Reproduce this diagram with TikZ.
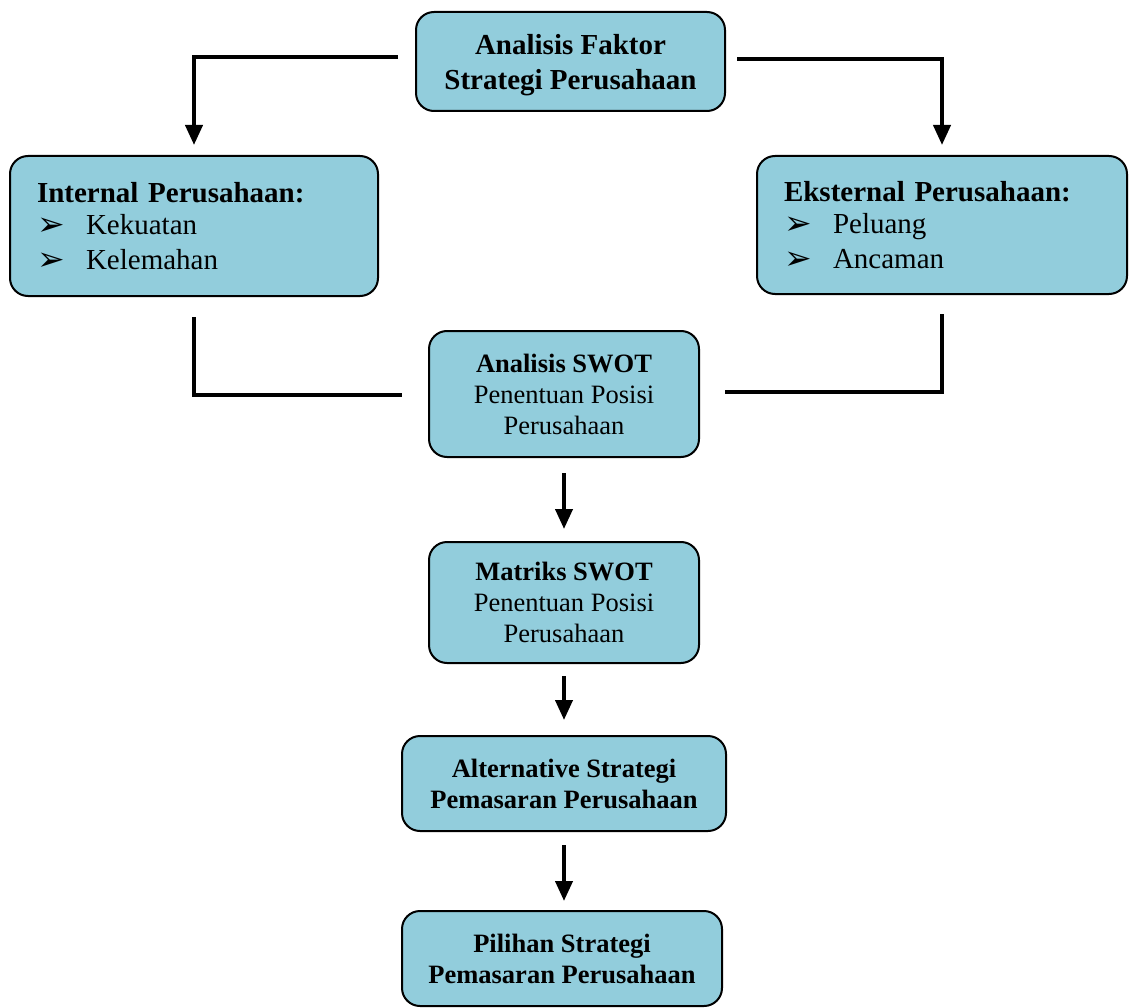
\documentclass[tikz,border=0pt]{standalone}
\usepackage{fontspec}
\setmainfont{Liberation Serif}
\newfontfamily\symfont{DejaVu Sans}
\usepackage{tikz}
\usetikzlibrary{positioning, calc}
\usetikzlibrary{arrows.meta}

\newcommand{\bul}{\raisebox{-1pt}{\symfont\fontsize{33}{33}\selectfont ➢}}
\newcommand{\bitem}[1]{\makebox[49pt][l]{\bul}#1}

\begin{document}
\begin{tikzpicture}[x=1pt, y=-1pt, >={Triangle[length=20pt,width=17pt]}, line width=4pt]
        % Define colors
        \definecolor{boxblue}{HTML}{92CDDC}

        % Styles
        \tikzset{
            box/.style={draw=black, fill=boxblue, line width=2pt, rounded corners=18pt, inner sep=0pt, align=center},
            bigtext/.style={font=\fontsize{29}{35}\selectfont},
            smalltext/.style={font=\fontsize{26.5}{31}\selectfont},
            sidebox/.style={box, bigtext, align=left, text width=#1, inner xsep=27pt}
        }

        \useasboundingbox (0,0) rectangle (1129,1008);

        % Nodes
        \node[box, bigtext, minimum width=309pt, minimum height=99pt] (top) at (570.5,61.5)
            {\rule{0pt}{28pt}\textbf{Analisis Faktor}\\\textbf{Strategi Perusahaan}};
        \node[sidebox=314pt, minimum width=368pt, minimum height=140pt] (intern) at (194,226)
            {\textbf{Internal Perusahaan:}\\[-3pt]\bitem{Kekuatan}\\\bitem{Kelemahan}};
        \node[sidebox=316pt, minimum width=370pt, minimum height=138pt] (ekstern) at (942,225)
            {\textbf{Eksternal Perusahaan:}\\[-3pt]\bitem{Peluang}\\\bitem{Ancaman}};

        \node[box, smalltext, minimum width=270pt, minimum height=126pt] (swot) at (564,394)
            {\textbf{Analisis SWOT}\\Penentuan Posisi\\Perusahaan};
        \node[box, smalltext, minimum width=270pt, minimum height=121pt, below=83pt of swot] (matriks)
            {\textbf{Matriks SWOT}\\Penentuan Posisi\\Perusahaan};
        \node[box, smalltext, minimum width=324pt, minimum height=95pt, below=71pt of matriks] (alt)
            {\textbf{Alternative Strategi}\\\textbf{Pemasaran Perusahaan}};
        \node[box, smalltext, minimum width=320pt, minimum height=95pt, below=78pt of alt, xshift=-2pt] (pilih)
            {\textbf{Pilihan Strategi}\\\textbf{Pemasaran Perusahaan}};

        % Free ends of the side connectors
        \coordinate (tl) at (398,57);
        \coordinate (tr) at (737,59);
        \coordinate (bl) at (402,395);
        \coordinate (br) at (725,392);

        % Edges
        \draw[->] (tl) -| ([yshift=10pt]intern.north);
        \draw[->] (tr) -| ([yshift=10pt]ekstern.north);
        \draw ([yshift=-20pt]intern.south) |- (bl);
        \draw ([yshift=-19pt]ekstern.south) |- (br);
        \draw[->] ([yshift=-15pt]swot.south) -- ([yshift=12pt]matriks.north);
        \draw[->] ([yshift=-12pt]matriks.south) -- ([yshift=15pt]alt.north);
        \draw[->] ([yshift=-13pt]alt.south) -- ([yshift=9pt,xshift=2pt]pilih.north);
    \end{tikzpicture}
\end{document}
